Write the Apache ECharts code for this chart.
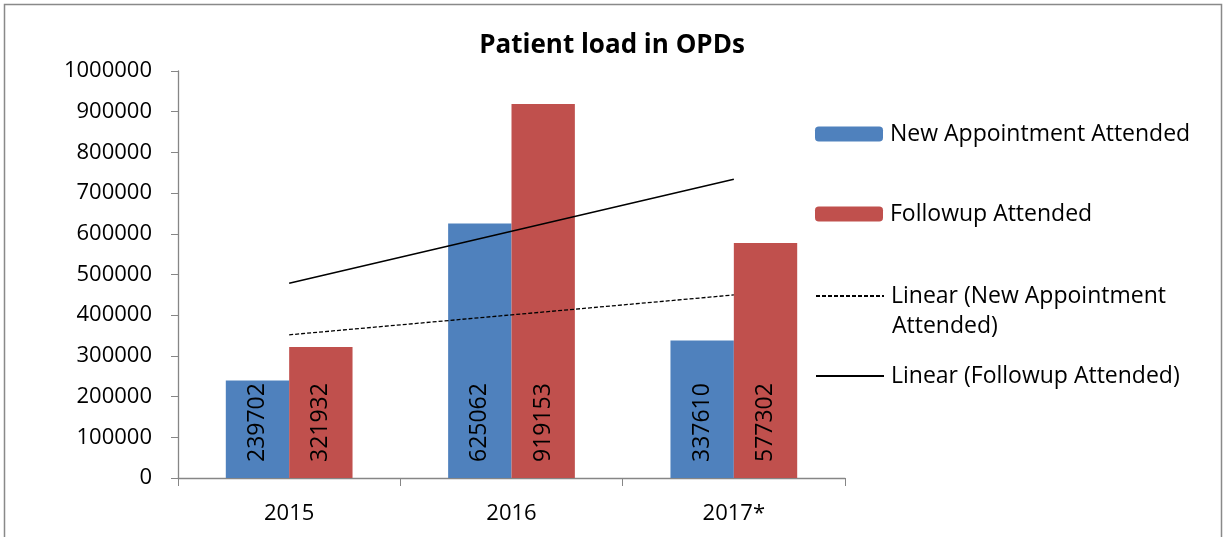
<!DOCTYPE html>
<html>
<head>
<meta charset="utf-8">
<script src="https://cdn.jsdelivr.net/npm/echarts@6/dist/echarts.min.js"></script>
<style>
html,body{margin:0;padding:0;background:#fff;}
#main{width:1224px;height:537px;}
</style>
</head>
<body>
<div id="main"></div>
<script>
var years = ['2015', '2016', '2017*'];
var newAppt = [239702, 625062, 337610];
var followup = [321932, 919153, 577302];
// linear trend lines as drawn in the picture
var trendNew = [351800, 400800, 449700];
var trendFollow = [478400, 606100, 733800];

var FONT = 'Open Sans';
var names = ['New Appointment Attended', 'Followup Attended',
	'Linear (New Appointment Attended)', 'Linear (Followup Attended)'];

function legendAt(name, top, isLine){
	var lg = {
		data: [name],
		orient: 'vertical',
		left: 815,
		top: top,
		padding: 0,
		itemWidth: 68,
		itemHeight: 15,
		itemGap: 0,
		selectedMode: false,
		formatter: function(n){
			// second line of this one is drawn under it (icon stays on first line)
			return n == names[2] ? 'Linear (New Appointment' : n;
		},
		textStyle: {fontFamily: FONT, fontSize: 23, color: '#000', lineHeight: 30, padding: [0, 0, 0, 2]}
	};
	if(isLine){
		lg.itemStyle = {opacity: 0};
	}
	return lg;
}

var myChart = echarts.init(document.getElementById('main'));
var option = {
	animation: false,
	backgroundColor: '#fff',
	title: {
		text: 'Patient load in OPDs',
		left: 'center',
		top: 28,
		textStyle: {fontFamily: FONT, fontSize: 26, fontWeight: 'bold', color: '#000'}
	},
	graphic: [{
		type: 'rect',
		shape: {x: 4.5, y: 4.5, width: 1217, height: 545},
		style: {fill: 'none', stroke: '#898989', lineWidth: 1.5},
		silent: true
	}, {
		type: 'text',
		left: 892,
		top: 311,
		silent: true,
		style: {text: 'Attended)', font: '23px "Open Sans"', fill: '#000', lineHeight: 30}
	}],
	legend: [
		legendAt(names[0], 119, false),
		legendAt(names[1], 199, false),
		legendAt(names[2], 281, true),
		legendAt(names[3], 361, true)
	],
	grid: {left: 178, right: 379, top: 71, bottom: 59},
	xAxis: {
		type: 'category',
		data: years,
		axisLine: {lineStyle: {color: '#868686', width: 1.3}},
		axisTick: {show: true, length: 8, interval: 0, lineStyle: {color: '#868686'}},
		axisLabel: {fontFamily: FONT, fontSize: 22, color: '#000', margin: 25}
	},
	yAxis: {
		type: 'value',
		min: 0,
		max: 1000000,
		interval: 100000,
		axisLine: {show: true, lineStyle: {color: '#868686', width: 1.3}},
		axisTick: {show: true, length: 7, lineStyle: {color: '#868686'}},
		splitLine: {show: false},
		axisLabel: {
			fontFamily: FONT, fontSize: 22, color: '#000', margin: 26,
			formatter: function(v){ return String(v); }
		}
	},
	series: [
		{
			name: names[0],
			type: 'bar',
			data: newAppt,
			barGap: '0%',
			barCategoryGap: '43%',
			itemStyle: {color: '#4F81BD'},
			label: {
				show: true, position: 'insideBottom', rotate: 90, distance: 16,
				align: 'left', verticalAlign: 'middle',
				fontFamily: FONT, fontSize: 23, color: '#000'
			}
		},
		{
			name: names[1],
			type: 'bar',
			data: followup,
			itemStyle: {color: '#C0504D'},
			label: {
				show: true, position: 'insideBottom', rotate: 90, distance: 16,
				align: 'left', verticalAlign: 'middle',
				fontFamily: FONT, fontSize: 23, color: '#000'
			}
		},
		{
			name: names[2],
			type: 'line',
			data: trendNew,
			symbol: 'none',
			itemStyle: {color: '#000'},
			lineStyle: {color: '#000', width: 1.3, type: [4, 2]}
		},
		{
			name: names[3],
			type: 'line',
			data: trendFollow,
			symbol: 'none',
			itemStyle: {color: '#000'},
			lineStyle: {color: '#000', width: 1.5}
		}
	]
};
myChart.setOption(option);
</script>
</body>
</html>
